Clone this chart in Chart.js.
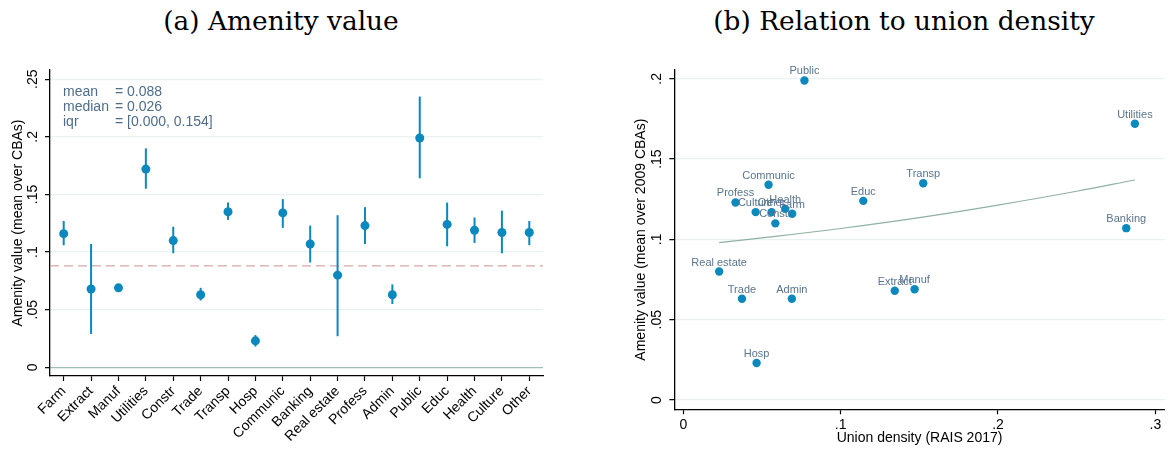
<!DOCTYPE html>
<html><head><meta charset="utf-8">
<script src="https://cdn.jsdelivr.net/npm/chart.js@4.4.1/dist/chart.umd.min.js"></script>
<style>
body{margin:0;background:#fff;width:1169px;height:450px;position:relative;overflow:hidden}
#c1{position:absolute;left:0;top:0}
#c2{position:absolute;left:585px;top:0}
.ttl{position:absolute;top:6px;font-family:"DejaVu Serif",serif;font-size:26.4px;line-height:30px;color:#000;text-align:center;white-space:nowrap}
</style></head><body>
<div class="ttl" style="left:31px;width:500px">(a) Amenity value</div>
<div class="ttl" style="left:654px;width:500px">(b) Relation to union density</div>
<canvas id="c1" width="580" height="450"></canvas>
<canvas id="c2" width="584" height="450"></canvas>
<script>
const industries = ['Farm','Extract','Manuf','Utilities','Constr','Trade','Transp','Hosp','Communic','Banking','Real estate','Profess','Admin','Public','Educ','Health','Culture','Other'];
const amenity = [0.116,0.068,0.069,0.172,0.110,0.063,0.135,0.023,0.134,0.107,0.080,0.123,0.063,0.199,0.124,0.119,0.117,0.117];
const ciLow   = [0.106,0.029,0.067,0.155,0.099,0.058,0.128,0.018,0.121,0.091,0.027,0.107,0.055,0.164,0.105,0.108,0.099,0.106];
const ciHigh  = [0.127,0.107,0.071,0.190,0.122,0.069,0.143,0.028,0.146,0.123,0.132,0.139,0.072,0.235,0.143,0.130,0.136,0.127];
const unionDensity = [0.0692,0.1344,0.147,0.287,0.0585,0.0373,0.1525,0.0466,0.0542,0.2815,0.0228,0.0332,0.069,0.077,0.1144,0.0648,0.046,0.0561];
const fitX = [0.0228,0.06,0.10,0.15,0.20,0.25,0.287];
const fitY = [0.098,0.102,0.1068,0.1136,0.1214,0.130,0.137];
const yTicksA = [0,0.05,0.10,0.15,0.20,0.25];
const yTicksB = [0,0.05,0.10,0.15,0.20];
const xTicksB = [0,0.1,0.2,0.3];
const meanValue = 0.088;
const statLabels = ['mean','median','iqr'];
const statValues = ['= 0.088','= 0.026','= [0.000, 0.154]'];

Chart.defaults.font.family = '"Liberation Sans", Arial, sans-serif';
Chart.defaults.color = '#000';
const BLUE = '#0b88bd';
const fmt = v => v === 0 ? '0' : String(+v.toFixed(3)).replace(/^0/, '');
const gridCol = '#e9f1f2';

const errorBars = {
  id:'errorBars',
  beforeDatasetsDraw(chart){
    const {ctx, scales:{x,y}} = chart;
    ctx.save();
    ctx.strokeStyle = BLUE; ctx.lineWidth = 2;
    ciLow.forEach((lo,i)=>{
      const px = x.getPixelForValue(i);
      ctx.beginPath(); ctx.moveTo(px, y.getPixelForValue(lo)); ctx.lineTo(px, y.getPixelForValue(ciHigh[i])); ctx.stroke();
    });
    ctx.restore();
  }
};
const meanLine = {
  id:'meanLine',
  beforeDatasetsDraw(chart){
    const {ctx, chartArea:a, scales:{y}} = chart;
    const py = y.getPixelForValue(meanValue);
    ctx.save(); ctx.strokeStyle = '#d9a7a7'; ctx.lineWidth = 1.3; ctx.setLineDash([9,5]);
    ctx.beginPath(); ctx.moveTo(a.left, py); ctx.lineTo(a.right, py); ctx.stroke(); ctx.restore();
  }
};
const statsText = {
  id:'statsText',
  afterDraw(chart){
    const {ctx} = chart;
    ctx.save(); ctx.fillStyle = '#4f6d8a'; ctx.font = '14px "Liberation Sans", Arial, sans-serif'; ctx.textBaseline = 'middle';
    statLabels.forEach((l,i)=>{ ctx.fillText(l, 63, 92 + 15*i); ctx.fillText(statValues[i], 115, 92 + 15*i); });
    ctx.restore();
  }
};
const pointLabels = {
  id:'pointLabels',
  afterDatasetsDraw(chart){
    const {ctx} = chart;
    const meta = chart.getDatasetMeta(0);
    ctx.save(); ctx.fillStyle = '#5a7590'; ctx.font = '11px "Liberation Sans", Arial, sans-serif';
    ctx.textAlign = 'center'; ctx.textBaseline = 'alphabetic';
    meta.data.forEach((pt,i)=>{ ctx.fillText(industries[i], pt.x, pt.y - 6); });
    ctx.restore();
  }
};

new Chart(document.getElementById('c1'), {
  type:'line',
  data:{labels:industries, datasets:[{data:amenity, showLine:false, pointRadius:4.5, pointHoverRadius:4.5, pointBackgroundColor:BLUE, pointBorderWidth:0, borderColor:BLUE}]},
  options:{
    responsive:false, animation:false, events:[],
    layout:{padding:{left:10,right:37,top:70,bottom:0}},
    plugins:{legend:{display:false}, tooltip:{enabled:false}},
    scales:{
      x:{type:'category', offset:true, afterFit:s=>{s.height=74;},
        grid:{drawOnChartArea:false, offset:false, tickLength:5, tickColor:'#000', tickWidth:1.2},
        border:{color:'#000', width:1.3},
        ticks:{autoSkip:false, minRotation:45, maxRotation:45, padding:2, color:'#000', font:{size:14}}},
      y:{min:-0.0075, max:0.258,
        afterBuildTicks:s=>{s.ticks = yTicksA.map(v=>({value:v}));},
        afterFit:s=>{s.width=40;},
        grid:{color:c=> (c.tick && c.tick.value===0) ? '#9dbcbc' : gridCol, lineWidth:1.3, tickLength:5, tickColor:'#000', tickWidth:1.2},
        border:{color:'#000', width:1.3},
        ticks:{autoSkip:false, minRotation:90, maxRotation:90, crossAlign:'center', padding:2, color:'#000', font:{size:14}, callback:v=>fmt(v)},
        title:{display:true, text:'Amenity value (mean over CBAs)', color:'#000', font:{size:14}, padding:0}}
    }
  },
  plugins:[meanLine, errorBars, statsText]
});

new Chart(document.getElementById('c2'), {
  type:'scatter',
  data:{datasets:[
    {data:unionDensity.map((x,i)=>({x, y:amenity[i]})), pointRadius:4.2, pointHoverRadius:4.2, pointBackgroundColor:BLUE, pointBorderWidth:0, borderColor:BLUE},
    {type:'line', data:fitX.map((x,i)=>({x, y:fitY[i]})), showLine:true, borderColor:'#8fb1a4', borderWidth:1.2, pointRadius:0, tension:0.4, fill:false}
  ]},
  options:{
    responsive:false, animation:false, events:[],
    layout:{padding:{left:48,right:2,top:70,bottom:0}},
    plugins:{legend:{display:false}, tooltip:{enabled:false}},
    scales:{
      x:{type:'linear', min:-0.0057, max:0.306,
        afterBuildTicks:s=>{s.ticks = xTicksB.map(v=>({value:v}));},
        afterFit:s=>{s.height=40.7;},
        grid:{drawOnChartArea:false, tickLength:5, tickColor:'#000', tickWidth:1.2},
        border:{color:'#000', width:1.3},
        ticks:{autoSkip:false, padding:2, color:'#000', font:{size:14}, callback:v=>fmt(v)},
        title:{display:true, text:'Union density (RAIS 2017)', color:'#000', font:{size:14}, padding:{top:0,bottom:3}}},
      y:{min:-0.0058, max:0.2055,
        afterBuildTicks:s=>{s.ticks = yTicksB.map(v=>({value:v}));},
        afterFit:s=>{s.width=41.3;},
        grid:{color:gridCol, lineWidth:1.3, tickLength:5, tickColor:'#000', tickWidth:1.2},
        border:{color:'#000', width:1.3},
        ticks:{autoSkip:false, minRotation:90, maxRotation:90, crossAlign:'center', padding:2, color:'#000', font:{size:14}, callback:v=>fmt(v)},
        title:{display:true, text:'Amenity value (mean over 2009 CBAs)', color:'#000', font:{size:14}, padding:0}}
    }
  },
  plugins:[pointLabels]
});
</script>
</body></html>
